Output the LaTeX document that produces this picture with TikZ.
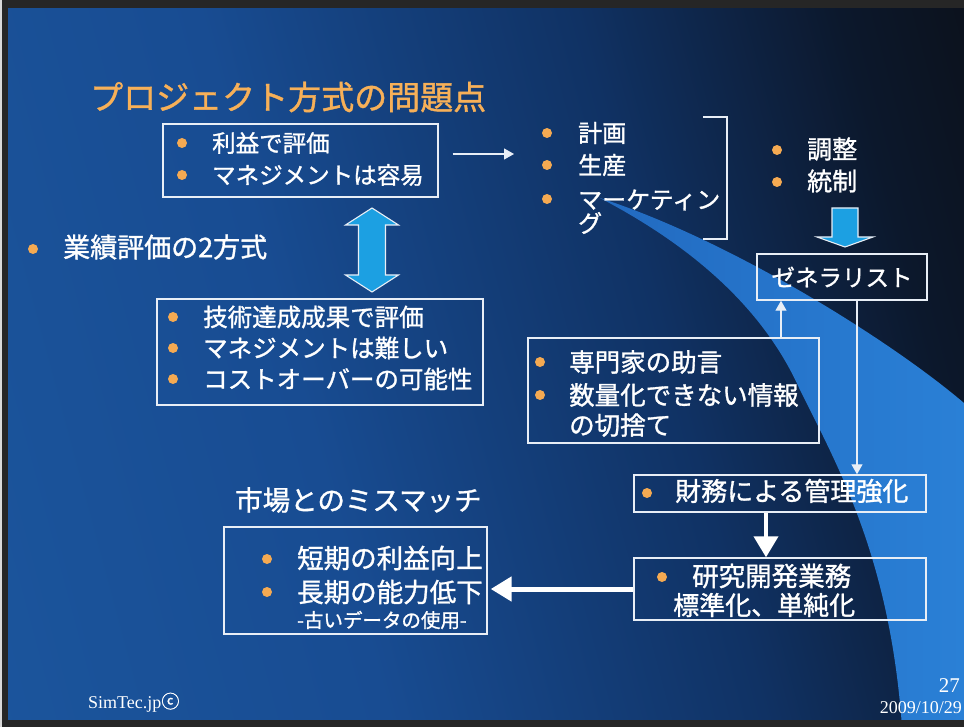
\documentclass[tikz,border=0pt]{standalone}
\usepackage{fontspec}
\setmainfont{Liberation Serif}
\newfontfamily\jp[FakeBold=1.2]{Noto Sans CJK JP}
\usetikzlibrary{arrows.meta}
\definecolor{bgA}{RGB}{30,93,166}
\definecolor{bgB}{RGB}{24,76,146}
\definecolor{bgC}{RGB}{16,50,100}
\definecolor{bgD}{RGB}{12,24,44}
\definecolor{bgE}{RGB}{12,13,17}
\definecolor{swA}{RGB}{34,106,192}
\definecolor{swB}{RGB}{42,128,214}
\definecolor{orng}{RGB}{245,170,82}
\definecolor{ttl}{RGB}{247,176,88}
\definecolor{wline}{RGB}{232,238,246}
\definecolor{cyanarr}{RGB}{28,160,226}
\pgfdeclarehorizontalshading{bgh}{100bp}{color(0bp)=(bgA); color(40bp)=(bgB); color(60bp)=(bgC); color(74bp)=(bgD); color(86bp)=(bgE); color(100bp)=(bgE)}
\begin{document}
\begin{tikzpicture}[x=1pt,y=-1pt,
  box/.style={draw=wline, line width=1.4pt, inner sep=0pt},
  jt/.style={text=white, inner sep=0pt, anchor=west, font=\jp\fontsize{#1}{#1}\selectfont},
  thinarr/.style={draw=wline, line width=1.2pt, -{Triangle[length=10pt,width=11pt]}},
  thickarr/.style={draw=white, line width=#1, -{Triangle[length=21pt,width=24pt]}},
  bigarr/.style={fill=cyanarr, draw=wline, line width=1.1pt, line join=miter},
  dotc/.style={fill=orng}]
\useasboundingbox (0,0) rectangle (964,727);
% background
\shade[shading=bgh, shading angle=15] (0,0) rectangle (964,727);
% swoosh
\shade[left color=swA, right color=swB]
  (600,198) .. controls (680,240) and (760,300) .. (800,390)
  .. controls (840,470) and (890,560) .. (902,727)
  -- (964,727) -- (964,403)
  .. controls (890,340) and (730,240) .. (600,198) -- cycle;
% frame of the scan
\fill[black!85] (0,0) rectangle (964,8);
\fill[black!85] (0,0) rectangle (8,727);
\fill[black!85] (0,720) rectangle (964,727);
\fill[black!15] (0,0) rectangle (2,727);

% title
\node[jt=33, text=ttl] (title) at (90,97) {プロジェクト方式の問題点};

% box 1
\node[box, minimum width=275pt, minimum height=73pt] (b1) at (300.5,160.5) {};
\fill[dotc] (182,143) circle (5pt);
\fill[dotc] (182,175) circle (5pt);
\node[jt=23.5] (b1a) at (212,143) {利益で評価};
\node[jt=23.5] (b1b) at (212,175) {マネジメントは容易};
\coordinate (a1e) at (514,154);
\draw[thinarr, shorten <=14pt] (b1.east |- a1e) -- (a1e);

% list
\fill[dotc] (547,133) circle (5pt);
\fill[dotc] (547,165) circle (5pt);
\fill[dotc] (547,199) circle (5pt);
\node[jt=24] (l1) at (578,133) {計画};
\node[jt=24] (l2) at (578,165) {生産};
\node[jt=24] (l3) at (578,200) {マーケティン};
\node[jt=24] (l4) at (578,223) {グ};
\draw[draw=wline, line width=1.2pt] (703,117) -- (727,117) -- (727,239) -- (703,239);

% coordination
\fill[dotc] (777,150) circle (5pt);
\fill[dotc] (777,182) circle (5pt);
\node[jt=25] (c1) at (807,149) {調整};
\node[jt=25] (c2) at (807,181) {統制};
\draw[bigarr] (832,208) -- (858,208) -- (858,237) -- (873,237) -- (845,247) -- (817,237) -- (832,237) -- cycle;

% generalist
\node[box, minimum width=170pt, minimum height=46pt, text=white, font=\jp\fontsize{23.5}{23.5}\selectfont] (gen) at (842,277) {ゼネラリスト};

% double arrow
\draw[bigarr] (372,208) -- (398.5,225) -- (385.5,225) -- (385.5,275) -- (398.5,275) -- (372,292)
  -- (345.5,275) -- (358.5,275) -- (358.5,225) -- (345.5,225) -- cycle;

% two methods
\fill[dotc] (33,249) circle (5pt);
\node[jt=27] (two) at (63,247) {業績評価の2方式};

% box 3
\node[box, minimum width=326pt, minimum height=106pt] (b3) at (320,352) {};
\fill[dotc] (173,317) circle (5pt);
\fill[dotc] (173,348) circle (5pt);
\fill[dotc] (173,379) circle (5pt);
\node[jt=24.5] (b3a) at (203,317) {技術達成成果で評価};
\node[jt=24.5] (b3b) at (203,348) {マネジメントは難しい};
\node[jt=24.5] (b3c) at (203,379) {コストオーバーの可能性};

% expert box
\node[box, minimum width=291pt, minimum height=105pt] (exp) at (673.5,390.5) {};
\fill[dotc] (540,362) circle (5pt);
\fill[dotc] (540,395) circle (5pt);
\node[jt=25.5] (e1) at (569,362) {専門家の助言};
\node[jt=25.5] (e2) at (569,395) {数量化できない情報};
\node[jt=25.5] (e3) at (569,425) {の切捨て};
\draw[thinarr] ([xshift=107.5pt]exp.north) -- ([xshift=107.5pt]exp.north |- gen.south);

% finance
\node[box, minimum width=292pt, minimum height=37pt] (fin) at (780,493.5) {};
\fill[dotc] (647,493) circle (5pt);
\node[jt=26] (f1) at (675,491) {財務による管理強化};
\draw[thinarr] ([xshift=15pt]gen.south) -- ([xshift=15pt]gen.south |- fin.north);

% R&D
\node[box, minimum width=292pt, minimum height=62pt] (rd) at (780,589) {};
\fill[dotc] (662,577) circle (5pt);
\node[jt=26.5] (r1) at (692,576) {研究開発業務};
\node[jt=26] (r2) at (673,605) {標準化、単純化};
\draw[thickarr=4pt] ([xshift=-14pt]fin.south) -- ([xshift=-14pt]fin.south |- rd.north);

% market mismatch
\node[jt=27.5] (mm) at (235,500) {市場とのミスマッチ};
\node[box, minimum width=263pt, minimum height=107pt] (b4) at (355.5,580.5) {};
\fill[dotc] (267,559) circle (5pt);
\fill[dotc] (267,592) circle (5pt);
\node[jt=26.5] (b4a) at (297,558) {短期の利益向上};
\node[jt=26.5] (b4b) at (297,592) {長期の能力低下};
\node[jt=19.5] (b4c) at (297,620) {-古いデータの使用-};
\draw[thickarr=5pt, shorten >=3pt] (rd.west) -- (rd.west -| b4.east);

% footer
\node[text=white, inner sep=0pt, anchor=base west, font=\fontsize{18}{18}\selectfont] (sim) at (88,708) {SimTec.jp{\jp ⓒ}};
\node[text=white, inner sep=0pt, anchor=base east, font=\fontsize{21}{21}\selectfont] (pg) at (960,692) {27};
\node[text=white, inner sep=0pt, anchor=base east, font=\fontsize{18}{18}\selectfont] (dt) at (962,713) {2009/10/29};
\end{tikzpicture}
\end{document}
